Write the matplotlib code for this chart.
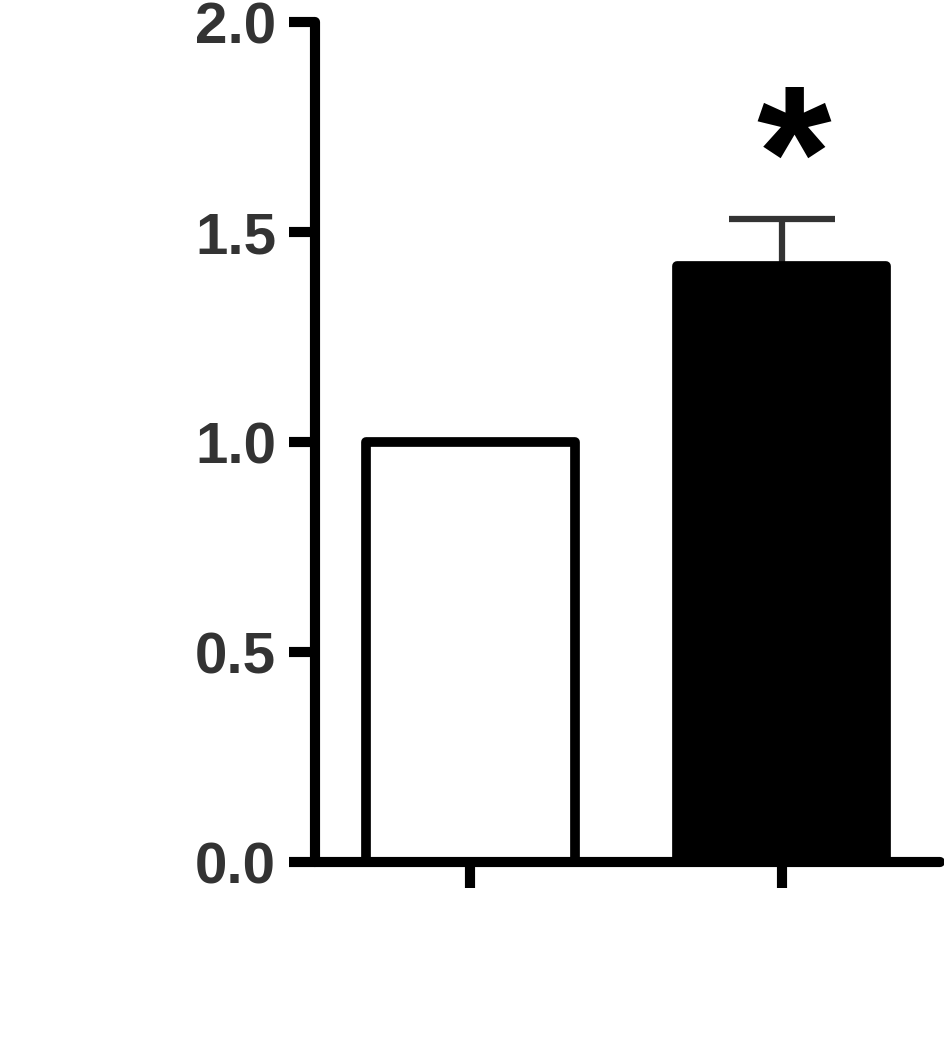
import matplotlib
matplotlib.use("Agg")
import matplotlib.pyplot as plt

# 数据
groups = [0, 1]
means = [1.0, 1.42]
sem_upper = [0.0, 0.11]
fills = ["white", "black"]
yticks = [0.0, 0.5, 1.0, 1.5, 2.0]
star_y = 1.65

plt.rcParams["font.family"] = ["Liberation Sans", "DejaVu Sans"]

fig = plt.figure(figsize=(9.45, 10.52), dpi=100)
ax = fig.add_axes([0.3333, 0.1806, 0.9947 - 0.3333, 0.979 - 0.1806])

ax.bar(groups, means, width=0.67, color=fills, edgecolor="black",
       linewidth=7, joinstyle="round", zorder=2)

# 只画上方误差
ax.errorbar(groups[1], means[1], yerr=[[0], [sem_upper[1]]], fmt="none",
            ecolor="#333333", elinewidth=4.5, capsize=38, capthick=4.5, zorder=1)
for line in ax.lines:
    line.set_solid_capstyle("round")

ax.text(groups[1] + 0.04, star_y, "*", fontsize=138, fontweight="bold",
        ha="center", va="center", color="black")

ax.set_xlim(-0.498, 1.508)
ax.set_ylim(0, 2.0)
ax.set_yticks(yticks)
ax.set_yticklabels([f"{v:.1f}" for v in yticks])
ax.set_xticks(groups)
ax.set_xticklabels(["", ""])

for side in ["top", "right"]:
    ax.spines[side].set_visible(False)
for side in ["left", "bottom"]:
    ax.spines[side].set_linewidth(7.3)
    ax.spines[side].set_capstyle("round")

ax.tick_params(axis="both", direction="out", length=19, width=7.3, color="black")
ax.tick_params(axis="y", labelsize=42, labelcolor="#333333", pad=9)
for lab in ax.get_yticklabels():
    lab.set_fontweight("bold")

fig.savefig("out.png", dpi=100, facecolor="white")
